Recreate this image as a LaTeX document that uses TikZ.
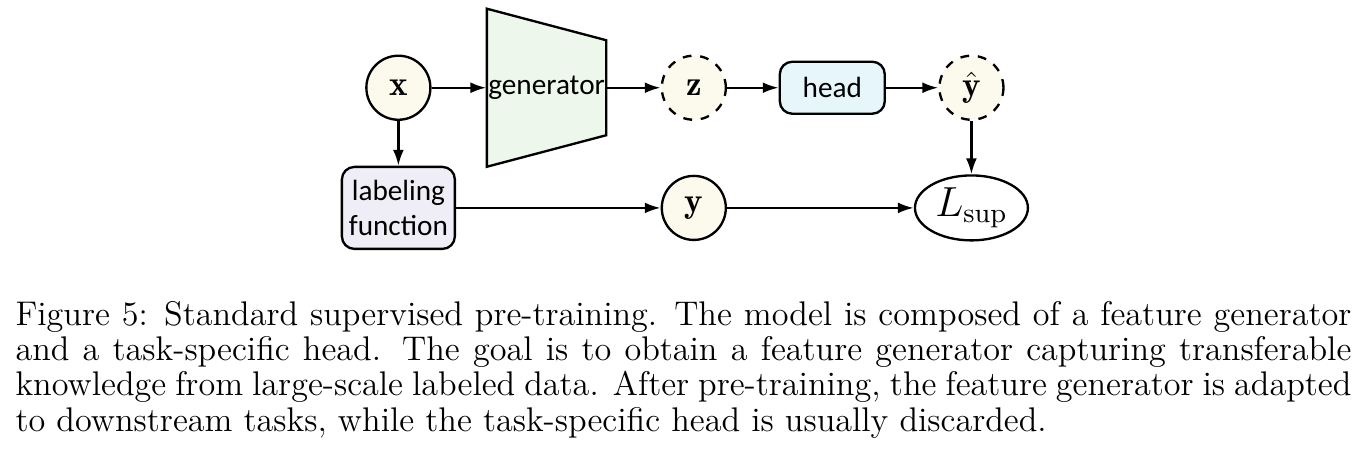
\documentclass[tikz,border=0pt]{standalone}
\usepackage{fontspec}
\usepackage{amsmath}
\newfontfamily\boxfont{Carlito}
\usetikzlibrary{arrows.meta,shapes.geometric}

\definecolor{varfill}{HTML}{FCFAEC}
\definecolor{genfill}{HTML}{EEF7EC}
\definecolor{headfill}{HTML}{E6F6FB}
\definecolor{labelfill}{HTML}{EFEEF7}

\tikzset{
  var/.style={circle, draw, line width=0.8pt, fill=varfill, minimum size=0.77cm, inner sep=0pt, font=\large},
  latent/.style={var, dashed},
  fbox/.style={rounded corners=0.15cm, draw, line width=0.8pt, inner sep=0pt, align=center,
    font=\boxfont\fontsize{10}{12}\selectfont},
  arr/.style={-{Latex[length=1.9mm,width=1.3mm]}, line width=0.8pt},
}

\begin{document}
\begin{tikzpicture}
        \useasboundingbox (0,0) rectangle (16.34,5.52);
        % generator body
        \draw[line width=0.8pt, fill=genfill] (5.854,5.415) -- (7.29,5.036) -- (7.29,3.894) -- (5.854,3.515) -- cycle;
        \node[inner sep=0pt, minimum width=1.436cm, minimum height=1.14cm, font=\boxfont\fontsize{10}{12}\selectfont] (gen) at (6.572,4.465) {generator};

        \node[var] (x) at (4.79,4.465) {$\mathbf{x}$};
        \node[latent] (z) at (8.342,4.465) {$\mathbf{z}$};
        \node[fbox, fill=headfill, minimum width=1.262cm, minimum height=0.625cm] (head) at (10.007,4.465) {head};
        \node[latent] (yhat) at (11.68,4.465) {$\hat{\mathbf{y}}$};

        \node[fbox, fill=labelfill, minimum width=1.358cm, minimum height=0.986cm] (label) at (4.79,3.02) {labeling\\function};
        \node[var] (y) at (8.342,3.02) {$\mathbf{y}$};
        \node[ellipse, draw, line width=0.8pt, minimum width=1.358cm, minimum height=0.781cm, inner sep=0pt,
          font=\fontsize{13.5}{15}\selectfont] (loss) at (11.68,3.02) {$L_{\mathrm{sup}}$};

        \draw[arr] (x) -- (gen.west);
        \draw[arr] (gen.east) -- (z);
        \draw[arr] (z) -- (head);
        \draw[arr] (head) -- (yhat);
        \draw[arr] (x) -- (label);
        \draw[arr] (label) -- (y);
        \draw[arr] (y) -- (loss);
        \draw[arr] (yhat) -- (loss);

        % caption
        \node[anchor=base west, inner sep=0pt, text width=457pt, align=justify,
          font=\fontsize{11.7}{12.1}\selectfont] (caption) at (0.18,1.611)
          {Figure 5: Standard supervised pre-training. The model is composed of a feature generator\linebreak
           and a task-specific head. The goal is to obtain a feature generator capturing transferable\linebreak
           knowledge from large-scale labeled data. After pre-training, the feature generator is adapted\linebreak
           to downstream tasks, while the task-specific head is usually discarded.};
      \end{tikzpicture}
\end{document}
